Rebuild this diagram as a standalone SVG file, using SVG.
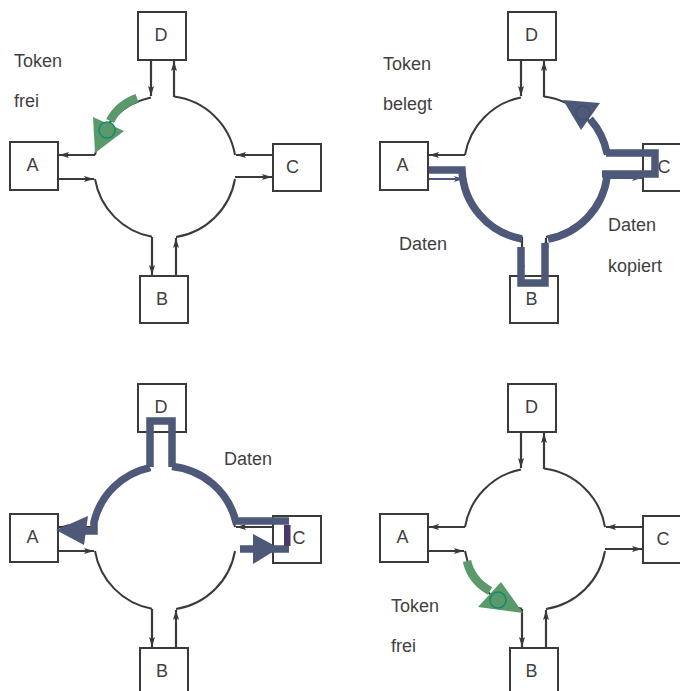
<svg xmlns="http://www.w3.org/2000/svg" width="680" height="691" viewBox="0 0 680 691">
<defs>
<style>
.box{fill:#fff;stroke:#3a3a3a;stroke-width:2}
.lbl{font-family:"Liberation Sans",Arial,sans-serif;font-size:18px;fill:#3f3f3f}
.mid{text-anchor:middle}
.ring{fill:none;stroke:#3a3a3a;stroke-width:2}
.arr{fill:none;stroke:#3a3a3a;stroke-width:2.2;marker-end:url(#ah)}
.arrb{fill:none;stroke:#4e5878;stroke-width:2;marker-end:url(#ahb)}
.band{fill:none;stroke:#4e5878;stroke-width:7.5;stroke-linejoin:miter}
.bandfill{fill:#4e5878}
.gband{fill:none;stroke:#5a9a6a;stroke-width:8.5}
.gfill{fill:#5a9a6a}
.tok{fill:#5a9a6a;stroke:#138a6e;stroke-width:1.5}
</style>
<marker id="ah" viewBox="0 0 10 6" refX="10" refY="3" markerWidth="10" markerHeight="6" markerUnits="userSpaceOnUse" orient="auto">
<path d="M0,0 L10,3 L0,6 L2,3 z" fill="#3a3a3a"/>
</marker>
<marker id="ahb" viewBox="0 0 10 6" refX="10" refY="3" markerWidth="10" markerHeight="6" markerUnits="userSpaceOnUse" orient="auto">
<path d="M0,0 L10,3 L0,6 L2,3 z" fill="#4e5878"/>
</marker>
</defs>
<rect width="680" height="691" fill="#fff"/>

<!-- Quadrant 1 -->
<g id="q1">
<g id="q1-connectors">
<path class="ring" d="M151,97.4 A71,71 0 0 0 95,155"/>
<path class="ring" d="M95,179 A71,71 0 0 0 152,236.8"/>
<path class="ring" d="M176,237 A71,71 0 0 0 235,179"/>
<path class="ring" d="M235,155 A71,71 0 0 0 174,96.6"/>
<path class="arr" d="M151,60 V96"/>
<path class="arr" d="M174,97 V61"/>
<path class="arr" d="M95,155 H59"/>
<path class="arr" d="M59,179 H94"/>
<path class="arr" d="M273,155 H236"/>
<path class="arr" d="M235,177 H272"/>
<path class="arr" d="M152,237 V275"/>
<path class="arr" d="M176,276 V238"/>
</g>
<g id="q1-D"><rect class="box" x="138" y="12" width="48" height="48"/><text class="lbl mid" x="161" y="41">D</text></g>
<g id="q1-A"><rect class="box" x="10" y="142" width="48" height="48"/><text class="lbl mid" x="32.5" y="171">A</text></g>
<g id="q1-C"><rect class="box" x="273" y="144" width="48" height="47"/><text class="lbl mid" x="292.5" y="173">C</text></g>
<g id="q1-B"><rect class="box" x="140" y="276" width="48" height="47"/><text class="lbl mid" x="162" y="305">B</text></g>
<g id="q1-token">
<path class="gband" d="M137,98 Q118,105 110,121"/>
<polygon class="gfill" points="93,117 124,131 95,153"/>
<circle class="tok" cx="107" cy="130" r="8"/>
</g>
<text class="lbl" x="14" y="67">Token</text>
<text class="lbl" x="14" y="107">frei</text>
</g>

<!-- Quadrant 2 -->
<g id="q2">
<g id="q2-connectors">
<g transform="translate(370,0)">
<path class="ring" d="M151,97.4 A71,71 0 0 0 95,155"/>
<path class="ring" d="M95,179 A71,71 0 0 0 152,236.8"/>
<path class="ring" d="M176,237 A71,71 0 0 0 235,179"/>
<path class="ring" d="M235,155 A71,71 0 0 0 174,96.6"/>
<path class="arr" d="M151,60 V96"/>
<path class="arr" d="M174,97 V61"/>
<path class="arr" d="M95,155 H59"/>
<path class="arrb" d="M59,179 H94"/>
<path class="arrb" d="M235,178 H272"/>
<path class="arr" d="M152,237 V275"/>
<path class="arr" d="M176,276 V238"/>
</g>
</g>
<g id="q2-D"><rect class="box" x="508" y="12" width="48" height="48"/><text class="lbl mid" x="531.5" y="41">D</text></g>
<g id="q2-A"><rect class="box" x="380" y="142" width="48" height="48"/><text class="lbl mid" x="402.5" y="171">A</text></g>
<g id="q2-C"><rect class="box" x="643" y="144" width="48" height="47"/><text class="lbl mid" x="664" y="173">C</text></g>
<g id="q2-B"><rect class="box" x="510" y="276" width="48" height="47"/><text class="lbl mid" x="531.5" y="305">B</text></g>
<g id="q2-data">
<path class="band" d="M429,170 H462 A73,73 0 0 0 522,239"/>
<path class="band" d="M521,247 V283 H545 V243"/>
<path class="band" d="M548,239 A73,73 0 0 0 607,177"/>
<path class="band" d="M606,153 H655 V174 H602"/>
<path class="band" d="M607,153 A73,73 0 0 0 590,119"/>
<polygon class="bandfill" points="563,100 600,103 581,130"/>
<circle cx="583" cy="113" r="7" fill="#4e5878" stroke="#455070" stroke-width="1.5"/>
</g>
<text class="lbl" x="383" y="70">Token</text>
<text class="lbl" x="383" y="110">belegt</text>
<text class="lbl" x="399" y="250">Daten</text>
<text class="lbl" x="608" y="231">Daten</text>
<text class="lbl" x="608" y="272">kopiert</text>
</g>

<!-- Quadrant 3 -->
<g id="q3">
<g id="q3-connectors">
<g transform="translate(0,372)">
<path class="ring" d="M151,97.4 A71,71 0 0 0 95,155"/>
<path class="ring" d="M95,179 A71,71 0 0 0 152,236.8"/>
<path class="ring" d="M176,237 A71,71 0 0 0 235,179"/>
<path class="ring" d="M235,155 A71,71 0 0 0 174,96.6"/>
<path class="arr" d="M95,155 H59"/>
<path class="arr" d="M59,179 H94"/>
<path class="arr" d="M273,155 H236"/>
<path class="arr" d="M152,237 V275"/>
<path class="arr" d="M176,276 V238"/>
</g>
</g>
<g id="q3-D"><rect class="box" x="138" y="384" width="48" height="48"/><text class="lbl mid" x="161" y="413">D</text></g>
<g id="q3-A"><rect class="box" x="10" y="514" width="48" height="48"/><text class="lbl mid" x="32.5" y="543">A</text></g>
<g id="q3-C"><rect class="box" x="273" y="516" width="48" height="47"/><text class="lbl mid" x="299" y="544">C</text></g>
<g id="q3-B"><rect class="box" x="140" y="648" width="48" height="47"/><text class="lbl mid" x="162" y="677">B</text></g>
<g id="q3-data">
<path class="band" d="M150,467 V421 H172 V467"/>
<path class="band" d="M150,467.6 A73,73 0 0 0 94,522 V531 H82"/>
<polygon class="bandfill" points="56,530 88,516 84,545"/>
<path class="band" d="M172,466.5 A73,73 0 0 1 235.7,521 H289"/>
<path class="band" d="M289,549 H240"/>
<rect x="284" y="525" width="6.5" height="21" fill="#4a3868"/>
<polygon class="bandfill" points="253,534 253,564 279,548"/>
</g>
<text class="lbl" x="224" y="465">Daten</text>
</g>

<!-- Quadrant 4 -->
<g id="q4">
<g id="q4-connectors">
<g transform="translate(370,372)">
<path class="ring" d="M151,97.4 A71,71 0 0 0 95,155"/>
<path class="ring" d="M95,179 A71,71 0 0 0 152,236.8"/>
<path class="ring" d="M176,237 A71,71 0 0 0 235,179"/>
<path class="ring" d="M235,155 A71,71 0 0 0 174,96.6"/>
<path class="arr" d="M151,60 V96"/>
<path class="arr" d="M174,97 V61"/>
<path class="arr" d="M95,155 H59"/>
<path class="arr" d="M59,179 H94"/>
<path class="arr" d="M273,155 H236"/>
<path class="arr" d="M235,177 H272"/>
<path class="arr" d="M152,237 V275"/>
<path class="arr" d="M176,276 V238"/>
</g>
</g>
<g id="q4-D"><rect class="box" x="508" y="384" width="48" height="48"/><text class="lbl mid" x="531.5" y="413">D</text></g>
<g id="q4-A"><rect class="box" x="380" y="514" width="48" height="48"/><text class="lbl mid" x="402.5" y="543">A</text></g>
<g id="q4-C"><rect class="box" x="643" y="516" width="48" height="47"/><text class="lbl mid" x="663" y="545">C</text></g>
<g id="q4-B"><rect class="box" x="510" y="648" width="48" height="47"/><text class="lbl mid" x="531.5" y="677">B</text></g>
<g id="q4-token">
<path class="gband" d="M467,561 Q471,580 490,591"/>
<polygon class="gfill" points="478,607 501,582 523,613"/>
<circle class="tok" cx="498" cy="600" r="8"/>
</g>
<text class="lbl" x="391" y="612">Token</text>
<text class="lbl" x="391" y="652">frei</text>
</g>
</svg>
